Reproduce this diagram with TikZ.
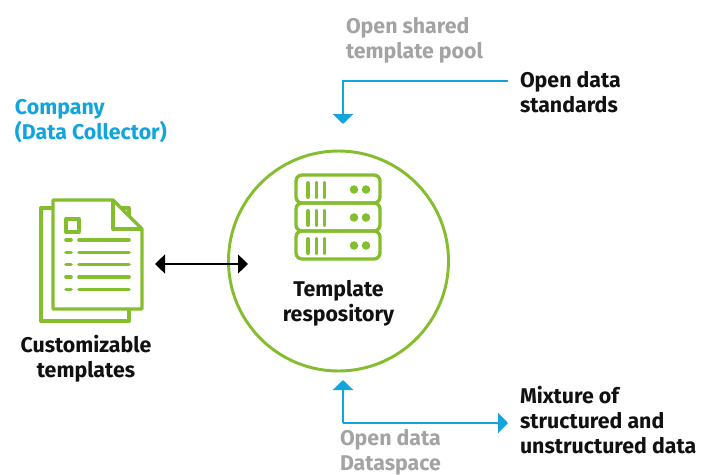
\documentclass[tikz,border=0pt]{standalone}
\usepackage{fontspec}
\setmainfont{Fira Sans}[BoldFont={Fira Sans Bold}]
\usetikzlibrary{arrows.meta}
\definecolor{leaf}{HTML}{84BD2D}
\definecolor{sky}{HTML}{12A5DC}
\definecolor{mist}{HTML}{A3A3A3}
\definecolor{ink}{HTML}{111111}
\tikzset{
  x=0.75pt,y=-0.75pt,
  lab/.style={inner sep=0pt,outer sep=0pt,font=\fontsize{16}{18.75}\selectfont\bfseries,align=left,anchor=north west,text=ink},
  labc/.style={lab,align=center,anchor=north},
  grey/.style={text=mist},
  blue/.style={text=sky},
  icon/.style={draw=leaf,line width=2.5pt,line join=round,fill=white},
  rule/.style={draw=leaf,line width=2.7pt,line cap=round},
  bar/.style={draw=leaf,line width=2.9pt,line cap=round},
  dot/.style={circle,fill=leaf,inner sep=0pt,minimum size=6.4pt},
  skyline/.style={draw=sky,line width=2.2pt},
  skyhead/.style={-{Triangle[length=7.5pt,width=15pt]}},
  blackline/.style={draw=black,line width=1.9pt,{Triangle[length=7.5pt,width=14pt]}-{Triangle[length=7.5pt,width=14pt]}}
}
\begin{document}
\begin{tikzpicture}
\useasboundingbox (0,0) rectangle (708,475);
% circle
\node[circle,draw=leaf,line width=2.2pt,minimum size=165pt,inner sep=0pt] (pool) at (338.5,261) {};
% document icon
\draw[icon] (41,208) rectangle (129,321);
\draw[icon] (53,200) -- (113,200) -- (142,229) -- (142,309) -- (53,309) -- cycle;
\draw[icon,fill=none] (113,200) -- (113,229) -- (142,229);
\draw[icon,fill=none] (66,219) rectangle (79,232);
\foreach \y in {240,252.5,264.5,277,289.5}{
  \draw[rule] (66,\y) -- (71,\y);
  \draw[rule] (79,\y) -- (129,\y);
}
% server icon
\foreach \t in {175,203,231}{
  \draw[icon,fill=none,rounded corners=4.5pt] (296,\t) rectangle (380,\t+28);
  \foreach \x in {308,316.5,324.5}{\draw[bar] (\x,\t+8) -- (\x,\t+22);}
  \node[dot] (d\t a) at (354,\t+14.5) {};
  \node[dot] (d\t b) at (366,\t+14.5) {};
}
% labels
\node[lab,grey] (shared) at (346,17) {Open shared\\template pool};
\node[lab] (standards) at (520,71) {Open data\\standards};
\node[lab,blue] (company) at (15,99) {Company\\(Data Collector)};
\node[labc] (repo) at (338.5,280) {Template\\respository};
\node[labc] (custom) at (86,335) {Customizable\\templates};
\node[lab] (mixture) at (520,386) {Mixture of\\structured and\\unstructured data};
\node[lab,grey] (dataspace) at (340,429) {Open data\\Dataspace};
% connectors
\coordinate (a1) at (508,81);
\coordinate (a2) at (343,81);
\coordinate (a3) at (343,124);
\draw[skyline,skyhead] (a1) -- (a2) -- (a3);
\coordinate (b1) at (343,380);
\coordinate (b2) at (343,423);
\coordinate (b3) at (508,423);
\draw[skyline,skyhead] (b2) -- (b3);
\draw[skyline,skyhead] (b2) -- (b1);
\coordinate (c1) at (155,264);
\coordinate (c2) at (248,264);
\draw[blackline] (c1) -- (c2);
\end{tikzpicture}
\end{document}
